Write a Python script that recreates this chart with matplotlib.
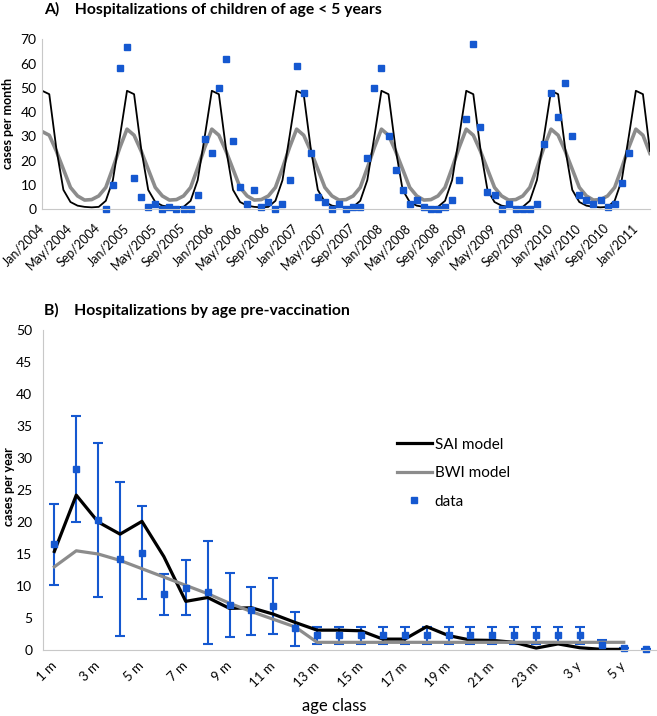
import matplotlib as mpl
mpl.use('Agg')
import matplotlib.pyplot as plt
import numpy as np

plt.rcParams['font.family'] = ['Lato', 'DejaVu Sans']

# ---- panel A : monthly hospitalizations, Jan 2004 .. Mar 2011
month_names = ['Jan', 'Feb', 'Mar', 'Apr', 'May', 'Jun', 'Jul', 'Aug', 'Sep', 'Oct', 'Nov', 'Dec']
month_labels = [m + '/' + str(y) for y in range(2004, 2012) for m in month_names][:87]

sai_month = [48.8, 47.4, 25, 8, 3, 1.5, 1.0, 0.8, 1.0, 3.5, 12, 30,
             48.8, 47.4, 25, 8, 3, 1.5, 1.0, 0.8, 1.0, 3.5, 12, 30,
             48.8, 47.4, 25, 8, 3, 1.5, 1.0, 0.8, 1.0, 3.5, 12, 30,
             48.8, 47.4, 25, 8, 3, 1.5, 1.0, 0.8, 1.0, 3.5, 12, 30,
             48.8, 47.4, 25, 8, 3, 1.5, 1.0, 0.8, 1.0, 3.5, 12, 30,
             48.8, 47.4, 25, 8, 3, 1.5, 1.0, 0.8, 1.0, 3.5, 12, 30,
             48.8, 47.4, 25, 8, 3, 1.5, 1.0, 0.8, 1.0, 3.5, 12, 30,
             48.8, 47.4, 24]
bwi_month = [32, 30.5, 24, 16.5, 9, 5.5, 3.8, 4.0, 5.5, 9.0, 17, 25.5,
             33, 30.5, 24, 16.5, 9, 5.5, 3.8, 4.0, 5.5, 9.0, 17, 25.5,
             33, 30.5, 24, 16.5, 9, 5.5, 3.8, 4.0, 5.5, 9.0, 17, 25.5,
             33, 30.5, 24, 16.5, 9, 5.5, 3.8, 4.0, 5.5, 9.0, 17, 25.5,
             33, 30.5, 24, 16.5, 9, 5.5, 3.8, 4.0, 5.5, 9.0, 17, 25.5,
             33, 30.5, 24, 16.5, 9, 5.5, 3.8, 4.0, 5.5, 9.0, 17, 25.5,
             33, 30.5, 24, 16.5, 9, 5.5, 3.8, 4.0, 5.5, 9.0, 17, 25.5,
             33, 30.5, 23]
nan = np.nan
obs_month = [nan, nan, nan, nan, nan, nan, nan, nan, nan, 0, 10, 58,
             67, 13, 5, 1, 2, 0, 1, 0, 0, 0, 6, 29,
             23, 50, 62, 28, 9, 2, 8, 1, 3, 0, 2, 12,
             59, 48, 23, 5, 3, 0, 2, 0, 1, 1, 21, 50,
             58, 30, 16, 8, 2, 4, 1, 0, 0, 1, 4, 12,
             37, 68, 34, 7, 6, 0, 2, 0, 0, 0, 2, 27,
             48, 38, 52, 30, 6, 4, 2, 4, 1, 2, 11, 23,
             nan, nan, nan]

# ---- panel B : hospitalizations by age class
age_classes = ['1 m', '2 m', '3 m', '4 m', '5 m', '6 m', '7 m', '8 m', '9 m', '10 m',
               '11 m', '12 m', '13 m', '14 m', '15 m', '16 m', '17 m', '18 m', '19 m',
               '20 m', '21 m', '22 m', '23 m', '2 y', '3 y', '4 y', '5 y', '> 5 y']
data_age = [16.5, 28.3, 20.3, 14.2, 15.2, 8.7, 9.7, 9.1, 7.1, 6.2, 6.9, 3.5, 2.3, 2.3,
            2.3, 2.3, 2.3, 2.3, 2.3, 2.3, 2.3, 2.3, 2.3, 2.3, 2.3, 0.8, 0.35, 0.1]
err_hi = [22.8, 36.6, 32.4, 26.3, 22.5, 11.9, 14.0, 17.0, 12.0, 9.9, 11.2, 6.0, 3.6, 3.6,
          3.6, 3.6, 3.6, 3.6, 3.6, 3.6, 3.6, 3.6, 3.6, 3.6, 3.6, 1.5, 0.35, 0.1]
err_lo = [10.2, 20.0, 8.3, 2.2, 7.9, 5.5, 5.5, 1.0, 2.1, 2.4, 2.5, 0.7, 0.95, 0.95,
          0.95, 0.95, 0.95, 0.95, 0.95, 0.95, 0.95, 0.95, 0.95, 0.95, 0.95, 0.2, 0.35, 0.1]
sai_age = [15.4, 24.2, 20.0, 18.1, 20.1, 14.6, 7.6, 8.2, 6.5, 6.6, 5.6, 4.3, 3.1, 3.1,
           3.0, 1.7, 1.7, 3.65, 2.25, 1.55, 1.5, 1.2, 0.3, 0.95, 0.35, 0.1, 0.1]
bwi_age = [13.0, 15.5, 15.0, 14.0, 12.7, 11.4, 10.1, 8.8, 7.3, 6.0, 4.8, 3.6, 1.2, 1.2,
           1.2, 1.2, 1.2, 1.2, 1.2, 1.2, 1.2, 1.2, 1.2, 1.2, 1.2, 1.2, 1.2]

W, H = 657, 716
blue = '#1558d0'
grey = '#8c8c8c'
axis_col = '#c8c8c8'

fig = plt.figure(figsize=(W / 100, H / 100), dpi=100)

# panel A
ax = fig.add_axes([42.2 / W, 1 - 209.3 / H, (650 - 42.2) / W, 170 / H])
x = np.arange(len(month_labels))
ax.plot(x, bwi_month, color=grey, lw=2.6)
ax.plot(x, sai_month, color='black', lw=1.3)
ax.plot(x, obs_month, 's', color=blue, ms=4.3, ls='none', clip_on=False)
ax.set_xlim(0, 86)
ax.set_ylim(0, 70)
ax.set_yticks(range(0, 71, 10))
ax.set_xticks(x[::4])
ax.set_xticklabels(month_labels[::4], rotation=45, ha='right', va='center',
                   rotation_mode='anchor', fontsize=9)
ax.tick_params(length=0)
ax.tick_params(axis='y', pad=4, labelsize=10)
ax.tick_params(axis='x', pad=12)
for s in ['top', 'right']:
    ax.spines[s].set_visible(False)
for s in ['left', 'bottom']:
    ax.spines[s].set_color(axis_col)
fig.text(8 / W, 1 - 123 / H, 'cases per month', fontweight='bold', fontsize=9,
         rotation=90, ha='center', va='center')
fig.text(44 / W, 1 - 9 / H, 'A)    Hospitalizations of children of age < 5 years',
         fontweight='bold', fontsize=11.3, va='center')

# panel B
ax2 = fig.add_axes([43.4 / W, 1 - 650 / H, (656.6 - 43.4) / W, 320 / H])
xa = np.arange(len(age_classes))
ax2.errorbar(xa, data_age,
             yerr=[np.array(data_age) - np.array(err_lo), np.array(err_hi) - np.array(data_age)],
             fmt='none', ecolor=blue, elinewidth=1.5, capsize=3.5, capthick=1.5)
ax2.plot(xa[:len(sai_age)], sai_age, color='black', lw=2.3, label='SAI model')
ax2.plot(xa[:len(bwi_age)], bwi_age, color=grey, lw=2.3, label='BWI model')
ax2.plot(xa, data_age, 's', color=blue, ms=4.3, ls='none', label='data', clip_on=False)
ax2.set_xlim(-0.5, len(age_classes) - 0.5)
ax2.set_ylim(0, 50)
ax2.set_yticks(range(0, 51, 5))
ax2.set_xticks(xa[::2])
ax2.set_xticklabels(age_classes[::2], rotation=45, ha='right', va='center',
                    rotation_mode='anchor', fontsize=9.5)
ax2.tick_params(length=0)
ax2.tick_params(axis='y', pad=8, labelsize=10)
ax2.tick_params(axis='x', pad=10)
for s in ['top', 'right']:
    ax2.spines[s].set_visible(False)
for s in ['left', 'bottom']:
    ax2.spines[s].set_color(axis_col)
fig.text(9 / W, 1 - 487 / H, 'cases per year', fontweight='bold', fontsize=9,
         rotation=90, ha='center', va='center')
fig.text(334 / W, 1 - 706 / H, 'age class', fontsize=12, ha='center', va='center')
ax2.legend(loc='upper left', bbox_to_anchor=(389 / W, 1 - 430 / H),
           bbox_transform=fig.transFigure, frameon=False, fontsize=11,
           handlelength=2.3, handletextpad=0.2, labelspacing=0.95, borderpad=0,
           numpoints=1)
fig.text(44 / W, 1 - 310 / H, 'B)    Hospitalizations by age pre-vaccination',
         fontweight='bold', fontsize=11.3, va='center')

plt.savefig('out.png', dpi=100)
